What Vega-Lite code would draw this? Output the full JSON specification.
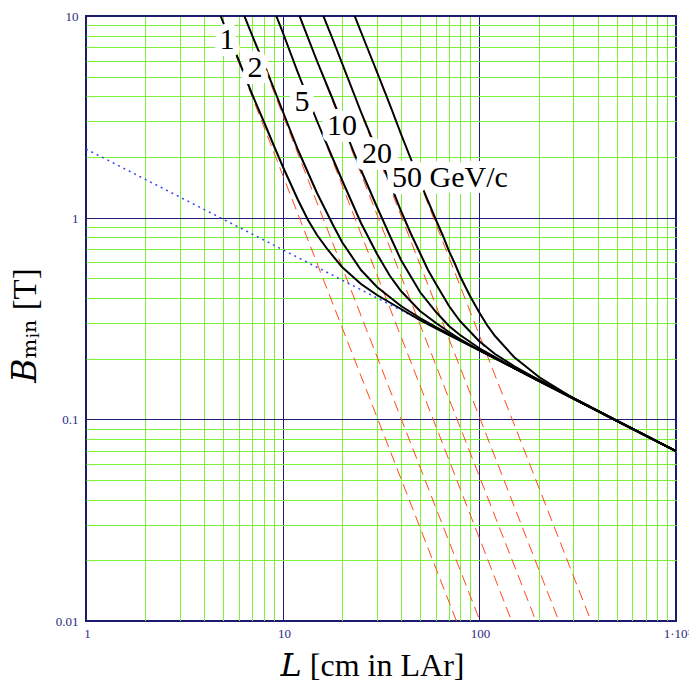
{
  "$schema": "https://vega.github.io/schema/vega-lite/v6.json",
  "width": 590,
  "height": 605,
  "autosize": {"type": "none"},
  "padding": {"left": 86, "top": 16, "right": 13, "bottom": 62},
  "background": "white",
  "config": {"view": {"stroke": "#1a1a6a", "strokeWidth": 2}, "font": "Liberation Serif"},
  "datasets": {
    "total": [
      {"p": 1, "L": 4.7, "B": 10.88}, {"p": 1, "L": 5, "B": 9.336}, {"p": 1, "L": 6, "B": 5.954}, {"p": 1, "L": 7, "B": 4.089}, {"p": 1, "L": 8, "B": 2.971}, {"p": 1, "L": 9, "B": 2.258}, {"p": 1, "L": 10, "B": 1.782}, {"p": 1, "L": 12, "B": 1.219}, {"p": 1, "L": 13.5, "B": 0.979}, {"p": 1, "L": 15, "B": 0.8231}, {"p": 1, "L": 17, "B": 0.6888}, {"p": 1, "L": 20, "B": 0.5711}, {"p": 1, "L": 25, "B": 0.4703}, {"p": 1, "L": 30, "B": 0.4152}, {"p": 1, "L": 40, "B": 0.3516}, {"p": 1, "L": 50, "B": 0.3125}, {"p": 1, "L": 70, "B": 0.2633}, {"p": 1, "L": 100, "B": 0.2201}, {"p": 1, "L": 200, "B": 0.1556}, {"p": 1, "L": 1000, "B": 0.0696},
      {"p": 2, "L": 6.1, "B": 11.33}, {"p": 2, "L": 7, "B": 8.05}, {"p": 2, "L": 8, "B": 5.787}, {"p": 2, "L": 9, "B": 4.334}, {"p": 2, "L": 10, "B": 3.355}, {"p": 2, "L": 12, "B": 2.176}, {"p": 2, "L": 15, "B": 1.32}, {"p": 2, "L": 18, "B": 0.916}, {"p": 2, "L": 20, "B": 0.7607}, {"p": 2, "L": 25, "B": 0.5513}, {"p": 2, "L": 30, "B": 0.4535}, {"p": 2, "L": 40, "B": 0.3627}, {"p": 2, "L": 50, "B": 0.3166}, {"p": 2, "L": 60, "B": 0.2865}, {"p": 2, "L": 80, "B": 0.2466}, {"p": 2, "L": 100, "B": 0.2202}, {"p": 2, "L": 150, "B": 0.1797}, {"p": 2, "L": 1000, "B": 0.0696},
      {"p": 5, "L": 8.8, "B": 11.3}, {"p": 5, "L": 10, "B": 8.236}, {"p": 5, "L": 12, "B": 5.241}, {"p": 5, "L": 15, "B": 3.032}, {"p": 5, "L": 18, "B": 1.958}, {"p": 5, "L": 20, "B": 1.532}, {"p": 5, "L": 25, "B": 0.9398}, {"p": 5, "L": 30, "B": 0.6621}, {"p": 5, "L": 35, "B": 0.5162}, {"p": 5, "L": 40, "B": 0.4322}, {"p": 5, "L": 50, "B": 0.344}, {"p": 5, "L": 60, "B": 0.2989}, {"p": 5, "L": 70, "B": 0.2705}, {"p": 5, "L": 80, "B": 0.2501}, {"p": 5, "L": 100, "B": 0.2215}, {"p": 5, "L": 150, "B": 0.1799}, {"p": 5, "L": 200, "B": 0.1556}, {"p": 5, "L": 1000, "B": 0.0696},
      {"p": 10, "L": 11.6, "B": 11.33}, {"p": 10, "L": 12, "B": 10.42}, {"p": 10, "L": 15, "B": 5.983}, {"p": 10, "L": 18, "B": 3.811}, {"p": 10, "L": 20, "B": 2.943}, {"p": 10, "L": 25, "B": 1.718}, {"p": 10, "L": 30, "B": 1.127}, {"p": 10, "L": 35, "B": 0.8069}, {"p": 10, "L": 40, "B": 0.6197}, {"p": 10, "L": 50, "B": 0.4278}, {"p": 10, "L": 60, "B": 0.3396}, {"p": 10, "L": 70, "B": 0.2918}, {"p": 10, "L": 80, "B": 0.2621}, {"p": 10, "L": 100, "B": 0.226}, {"p": 10, "L": 120, "B": 0.2035}, {"p": 10, "L": 150, "B": 0.1806}, {"p": 10, "L": 200, "B": 0.1558}, {"p": 10, "L": 300, "B": 0.1271}, {"p": 10, "L": 1000, "B": 0.0696},
      {"p": 20, "L": 15.3, "B": 11.34}, {"p": 20, "L": 18, "B": 7.569}, {"p": 20, "L": 20, "B": 5.823}, {"p": 20, "L": 25, "B": 3.351}, {"p": 20, "L": 30, "B": 2.144}, {"p": 20, "L": 35, "B": 1.48}, {"p": 20, "L": 40, "B": 1.083}, {"p": 20, "L": 45, "B": 0.8315}, {"p": 20, "L": 50, "B": 0.6645}, {"p": 20, "L": 55, "B": 0.5497}, {"p": 20, "L": 60, "B": 0.4682}, {"p": 20, "L": 70, "B": 0.365}, {"p": 20, "L": 80, "B": 0.3056}, {"p": 20, "L": 100, "B": 0.2433}, {"p": 20, "L": 120, "B": 0.2113}, {"p": 20, "L": 150, "B": 0.1835}, {"p": 20, "L": 200, "B": 0.1566}, {"p": 20, "L": 300, "B": 0.1272}, {"p": 20, "L": 500, "B": 0.0984}, {"p": 20, "L": 1000, "B": 0.0696},
      {"p": 50, "L": 22, "B": 11.44}, {"p": 50, "L": 25, "B": 8.316}, {"p": 50, "L": 30, "B": 5.28}, {"p": 50, "L": 35, "B": 3.6}, {"p": 50, "L": 40, "B": 2.588}, {"p": 50, "L": 50, "B": 1.5005}, {"p": 50, "L": 60, "B": 0.973}, {"p": 50, "L": 65, "B": 0.8093}, {"p": 50, "L": 70, "B": 0.6854}, {"p": 50, "L": 75, "B": 0.5902}, {"p": 50, "L": 80, "B": 0.5158}, {"p": 50, "L": 90, "B": 0.4097}, {"p": 50, "L": 100, "B": 0.3402}, {"p": 50, "L": 110, "B": 0.2929}, {"p": 50, "L": 120, "B": 0.2596}, {"p": 50, "L": 150, "B": 0.2028}, {"p": 50, "L": 200, "B": 0.1622}, {"p": 50, "L": 300, "B": 0.1281}, {"p": 50, "L": 500, "B": 0.0985}, {"p": 50, "L": 1000, "B": 0.0696}
    ],
    "resolution": [
      {"p": 1, "L": 4.7, "B": 10.84}, {"p": 1, "L": 85, "B": 0.007792},
      {"p": 2, "L": 6.1, "B": 11.295}, {"p": 2, "L": 110, "B": 0.00818},
      {"p": 5, "L": 8.8, "B": 11.296}, {"p": 5, "L": 160, "B": 0.008014},
      {"p": 10, "L": 11.6, "B": 11.324}, {"p": 10, "L": 210, "B": 0.008121},
      {"p": 20, "L": 15.3, "B": 11.336}, {"p": 20, "L": 280, "B": 0.007912},
      {"p": 50, "L": 22, "B": 11.431}, {"p": 50, "L": 400, "B": 0.008109}
    ],
    "scattering": [
      {"L": 1, "B": 2.2}, {"L": 1000, "B": 0.0696}
    ],
    "labels": [
      {"t": "1", "L": 5.24, "B": 7.6},
      {"t": "2", "L": 7.23, "B": 5.5},
      {"t": "5", "L": 12.61, "B": 3.75},
      {"t": "10", "L": 20.14, "B": 2.854},
      {"t": "20", "L": 30.2, "B": 2.074},
      {"t": "50 GeV/c", "L": 70.9, "B": 1.578}
    ]
  },
  "encoding": {
    "x": {
      "field": "L", "type": "quantitative",
      "scale": {"type": "log", "domain": [1, 1000], "nice": false, "round": true},
      "axis": {
        "values": [1, 2, 3, 4, 5, 6, 7, 8, 9, 10, 20, 30, 40, 50, 60, 70, 80, 90, 100, 200, 300, 400, 500, 600, 700, 800, 900, 1000],
        "grid": true,
        "gridColor": {"condition": {"test": "indexof([1, 10, 100, 1000], datum.value) >= 0", "value": "#1c1c70"}, "value": "#7cf03a"},
        "gridWidth": 1, "gridOpacity": 1,
        "ticks": false, "domain": false,
        "labelExpr": "datum.value == 1000 ? '1·10³' : (indexof([1, 10, 100], datum.value) >= 0 ? '' + datum.value : '')",
        "labelFont": "Liberation Serif", "labelFontSize": 13, "labelColor": "#2b2b80",
        "labelPadding": 6, "labelOverlap": false, "labelFlush": false, "labelOffset": 1,
        "title": "𝐿 [cm in LAr]",
        "titleFont": "'Liberation Serif', 'DejaVu Serif'", "titleFontSize": 32, "titleFontWeight": "normal", "titleColor": "black",
        "titleX": 286, "titleY": 54, "titleBaseline": "alphabetic", "titleAlign": "center"
      }
    },
    "y": {
      "field": "B", "type": "quantitative",
      "scale": {"type": "log", "domain": [0.01, 10], "nice": false, "round": true},
      "axis": {
        "values": [0.01, 0.02, 0.03, 0.04, 0.05, 0.06, 0.07, 0.08, 0.09, 0.1, 0.2, 0.3, 0.4, 0.5, 0.6, 0.7, 0.8, 0.9, 1, 2, 3, 4, 5, 6, 7, 8, 9, 10],
        "grid": true,
        "gridColor": {"condition": {"test": "indexof([0.01, 0.1, 1, 10], datum.value) >= 0", "value": "#1c1c70"}, "value": "#7cf03a"},
        "gridWidth": 1, "gridOpacity": 1,
        "ticks": false, "domain": false,
        "labelExpr": "indexof([0.01, 0.1, 1, 10], datum.value) >= 0 ? '' + datum.value : ''",
        "labelFont": "Liberation Serif", "labelFontSize": 13, "labelColor": "#2b2b80",
        "labelPadding": 8, "labelOverlap": false, "labelFlush": false,
        "title": "𝐵ₘᵢₙ [T]",
        "titleFont": "'Liberation Serif', 'DejaVu Serif'", "titleFontSize": 33, "titleFontWeight": "normal", "titleColor": "black",
        "titleX": -51, "titleY": 309, "titleBaseline": "alphabetic", "titleAlign": "center", "titleAngle": -90
      }
    }
  },
  "layer": [
    {
      "data": {"name": "resolution"},
      "mark": {"type": "line", "color": "#ff4a1a", "strokeWidth": 1, "strokeDash": [11, 6], "clip": true},
      "encoding": {"detail": {"field": "p"}}
    },
    {
      "data": {"name": "scattering"},
      "mark": {"type": "line", "color": "#3344ff", "strokeWidth": 1.5, "strokeDash": [2, 4], "clip": true},
      "encoding": {}
    },
    {
      "data": {"name": "total"},
      "mark": {"type": "line", "color": "black", "strokeWidth": 2, "clip": true},
      "encoding": {"detail": {"field": "p"}}
    },
    {
      "data": {"name": "labels"},
      "mark": {"type": "text", "font": "Liberation Serif", "fontSize": 30, "align": "center", "baseline": "middle", "fill": "white", "stroke": "white", "strokeWidth": 14, "strokeJoin": "round"},
      "encoding": {"text": {"field": "t"}}
    },
    {
      "data": {"name": "labels"},
      "mark": {"type": "text", "font": "Liberation Serif", "fontSize": 30, "align": "center", "baseline": "middle", "color": "black"},
      "encoding": {"text": {"field": "t"}}
    }
  ]
}
